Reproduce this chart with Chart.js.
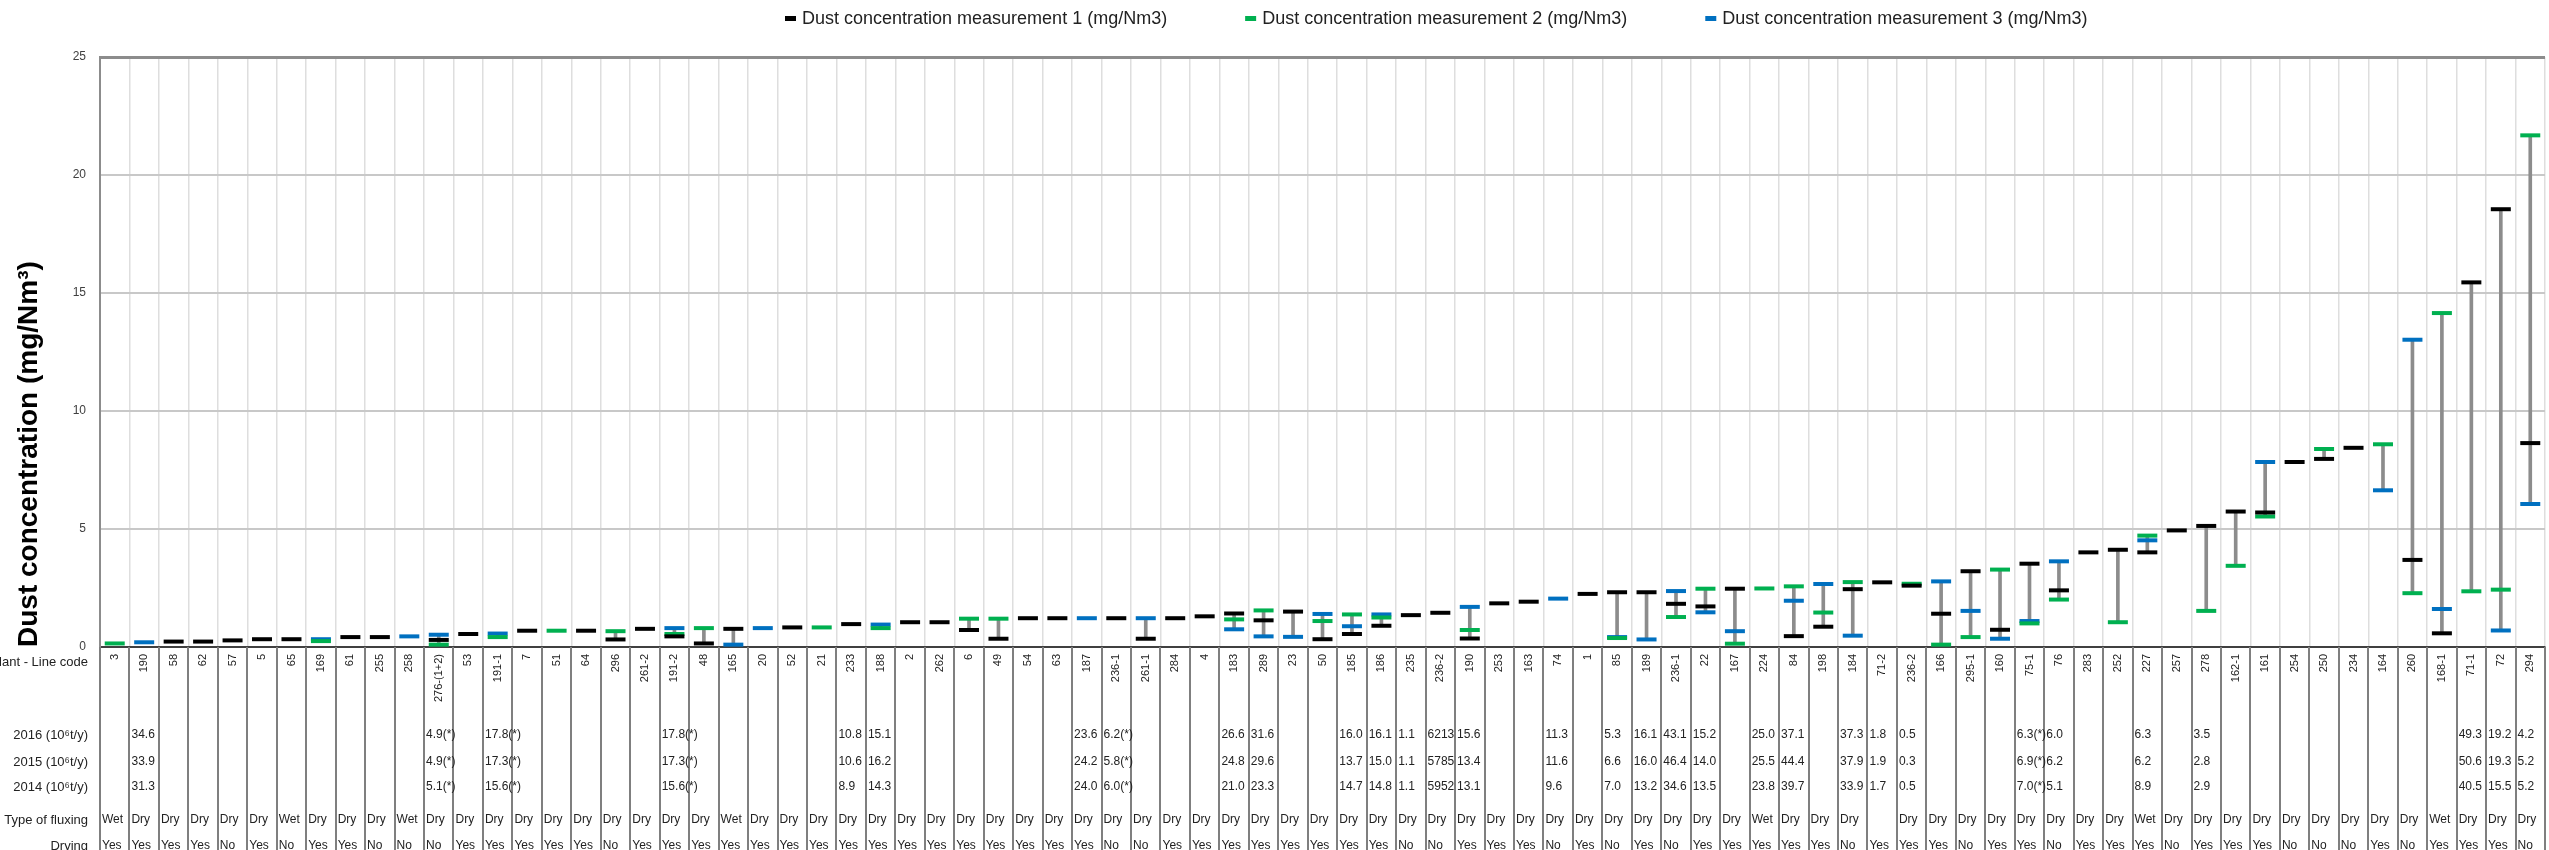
<!DOCTYPE html>
<html>
<head>
<meta charset="utf-8">
<script src="https://cdn.jsdelivr.net/npm/chart.js@4.4.1/dist/chart.umd.min.js"></script>
<style>
  html, body { margin: 0; padding: 0; background: #fff; }
  #wrap { width: 2549px; height: 850px; }
</style>
</head>
<body>
<div id="wrap"><canvas id="dustChart" width="2549" height="850"></canvas></div>
<script>
// PLANT - LINE CODES
const lineCodes = ['3','190','58','62','57','5','65','169','61','255','258','276-(1+2)','53','191-1','7','51','64','296','261-2','191-2',
  '48','165','20','52','21','233','188','2','262','6','49','54','63','187','236-1','261-1','284','4','183','289',
  '23','50','185','186','235','236-2','190','253','163','74','1','85','189','236-1','22','167','224','84','198','184',
  '71-2','236-2','166','295-1','160','75-1','76','283','252','227','257','278','162-1','161','254','250','234','164','260','168-1',
  '71-1','72','294'];

// DUST CONCENTRATION (mg/Nm3), null = not measured
const measurement1 = [null,null,0.23,0.23,0.28,0.33,0.33,null,0.42,0.42,null,0.3,0.55,null,0.69,null,0.69,0.32,0.77,0.45,
  0.15,0.77,null,0.83,null,0.97,null,1.05,1.05,0.72,0.35,1.22,1.22,null,1.22,0.35,1.22,1.3,1.42,1.13,
  1.5,0.33,0.55,0.9,1.35,1.45,0.36,1.85,1.92,null,2.25,2.32,2.32,1.83,1.72,2.47,null,0.46,0.86,2.45,
  2.74,2.6,1.41,3.21,0.73,3.53,2.4,4.01,4.12,4.01,4.94,5.13,5.74,5.7,7.84,7.97,8.44,null,3.69,0.58,
  15.45,18.55,8.64];
const measurement2 = [0.15,null,null,null,null,null,null,0.25,null,null,null,0.1,null,0.42,null,0.69,null,0.67,null,0.55,
  0.8,null,null,null,0.83,null,0.8,null,null,1.2,1.2,null,null,null,null,null,null,null,1.17,1.55,
  null,1.1,1.38,1.25,null,null,0.72,null,null,null,null,0.38,null,1.27,2.47,0.14,2.48,2.57,1.46,2.75,
  null,2.68,0.1,0.42,3.28,1.0,2.01,null,1.05,4.72,null,1.53,3.44,5.53,null,8.39,null,8.59,2.28,14.15,
  2.36,2.43,21.68];
const measurement3 = [null,0.2,null,null,null,null,null,0.33,null,null,0.45,0.52,null,0.57,null,null,null,null,null,0.8,
  null,0.1,0.8,null,null,null,0.95,null,null,null,null,null,null,1.22,null,1.22,null,null,0.75,0.45,
  0.43,1.4,0.88,1.38,null,null,1.7,null,null,2.05,null,0.42,0.32,2.37,1.47,0.67,null,1.96,2.67,0.48,
  null,null,2.78,1.53,0.35,1.1,3.63,null,null,4.52,null,null,null,7.84,null,null,null,6.64,13.02,1.61,
  null,0.7,6.06];

// PRODUCTION (10^6 t/y)
const prod2016 = ['','34.6','','','','','','','','','','4.9(*)','','17.8(*)','','','','','','17.8(*)',
  '','','','','','10.8','15.1','','','','','','','23.6','6.2(*)','','','','26.6','31.6',
  '','','16.0','16.1','1.1','6213','15.6','','','11.3','','5.3','16.1','43.1','15.2','','25.0','37.1','','37.3',
  '1.8','0.5','','','','6.3(*)','6.0','','','6.3','','3.5','','','','','','','','',
  '49.3','19.2','4.2'];
const prod2015 = ['','33.9','','','','','','','','','','4.9(*)','','17.3(*)','','','','','','17.3(*)',
  '','','','','','10.6','16.2','','','','','','','24.2','5.8(*)','','','','24.8','29.6',
  '','','13.7','15.0','1.1','5785','13.4','','','11.6','','6.6','16.0','46.4','14.0','','25.5','44.4','','37.9',
  '1.9','0.3','','','','6.9(*)','6.2','','','6.2','','2.8','','','','','','','','',
  '50.6','19.3','5.2'];
const prod2014 = ['','31.3','','','','','','','','','','5.1(*)','','15.6(*)','','','','','','15.6(*)',
  '','','','','','8.9','14.3','','','','','','','24.0','6.0(*)','','','','21.0','23.3',
  '','','14.7','14.8','1.1','5952','13.1','','','9.6','','7.0','13.2','34.6','13.5','','23.8','39.7','','33.9',
  '1.7','0.5','','','','7.0(*)','5.1','','','8.9','','2.9','','','','','','','','',
  '40.5','15.5','5.2'];

const fluxingType = ['Wet','Dry','Dry','Dry','Dry','Dry','Wet','Dry','Dry','Dry','Wet','Dry','Dry','Dry','Dry','Dry','Dry','Dry','Dry','Dry',
  'Dry','Wet','Dry','Dry','Dry','Dry','Dry','Dry','Dry','Dry','Dry','Dry','Dry','Dry','Dry','Dry','Dry','Dry','Dry','Dry',
  'Dry','Dry','Dry','Dry','Dry','Dry','Dry','Dry','Dry','Dry','Dry','Dry','Dry','Dry','Dry','Dry','Wet','Dry','Dry','Dry',
  '','Dry','Dry','Dry','Dry','Dry','Dry','Dry','Dry','Wet','Dry','Dry','Dry','Dry','Dry','Dry','Dry','Dry','Dry','Wet',
  'Dry','Dry','Dry'];
const drying = ['Yes','Yes','Yes','Yes','No','Yes','No','Yes','Yes','No','No','No','Yes','Yes','Yes','Yes','Yes','No','Yes','Yes',
  'Yes','Yes','Yes','Yes','Yes','Yes','Yes','Yes','Yes','Yes','Yes','Yes','Yes','Yes','No','No','Yes','Yes','Yes','Yes',
  'Yes','Yes','Yes','Yes','No','No','Yes','Yes','Yes','No','Yes','No','Yes','No','Yes','Yes','Yes','Yes','Yes','No',
  'Yes','Yes','Yes','No','Yes','Yes','No','Yes','Yes','Yes','No','Yes','Yes','Yes','No','No','No','Yes','No','Yes',
  'Yes','Yes','No'];

const yTicks = [0, 5, 10, 15, 20, 25];

const seriesNames = ['Dust concentration measurement 1 (mg/Nm3)', 'Dust concentration measurement 2 (mg/Nm3)', 'Dust concentration measurement 3 (mg/Nm3)'];
const seriesColors = ['#000000', '#00B050', '#0070C0'];

// MIN - MAX RANGE FOR THE GREY LINE
function buildRanges() {
  return lineCodes.map((c, i) => {
    const vals = [measurement1[i], measurement2[i], measurement3[i]].filter(v => v !== null);
    if (vals.length < 2) return null;
    return [Math.min(...vals), Math.max(...vals)];
  });
}

// LEGEND ON TOP (Excel style spacing)
const topLegend = {
  id: 'topLegend',
  afterDraw(chart) {
    const ctx = chart.ctx;
    ctx.save();
    ctx.font = '18px "Liberation Sans", sans-serif';
    ctx.textBaseline = 'middle';
    let x = 785;
    const y = 19;
    seriesNames.forEach((name, i) => {
      ctx.fillStyle = seriesColors[i];
      ctx.fillRect(x, y - 3, 11, 5);
      ctx.fillStyle = '#222';
      ctx.fillText(name, x + 17, y);
      x += 17 + ctx.measureText(name).width + 78;
    });
    ctx.restore();
  }
};

// TABLE UNDER THE CHART
const tableRows = [
  { label: '2016 (10\u2076t/y)', values: prod2016, y: 735 },
  { label: '2015 (10\u2076t/y)', values: prod2015, y: 762 },
  { label: '2014 (10\u2076t/y)', values: prod2014, y: 787 },
  { label: 'Type of fluxing', values: fluxingType, y: 820 },
  { label: 'Drying', values: drying, y: 846 }
];

const tablePlugin = {
  id: 'lineTable',
  afterDraw(chart) {
    const ctx = chart.ctx;
    const xs = chart.scales.x;
    const top = chart.chartArea.bottom;
    const colW = (xs.right - xs.left) / lineCodes.length;
    ctx.save();
    ctx.strokeStyle = '#7f7f7f';
    ctx.lineWidth = 2;
    for (let i = 0; i <= lineCodes.length; i++) {
      const px = Math.round(xs.left + i * colW);
      ctx.beginPath();
      ctx.moveTo(px, top);
      ctx.lineTo(px, chart.height);
      ctx.stroke();
    }
    ctx.fillStyle = '#222';
    ctx.textBaseline = 'middle';
    ctx.font = '13px "Liberation Sans", sans-serif';
    ctx.textAlign = 'right';
    ctx.fillText('Plant - Line code', 88, 662);
    tableRows.forEach(r => ctx.fillText(r.label, 88, r.y));
    ctx.textAlign = 'left';
    ctx.font = '12px "Liberation Sans", sans-serif';
    tableRows.forEach(r => {
      r.values.forEach((v, i) => {
        if (v) ctx.fillText(v, xs.left + i * colW + 2, r.y);
      });
    });
    ctx.restore();
  }
};

function createChart() {
  const ctx = document.getElementById('dustChart').getContext('2d');
  Chart.defaults.font.family = '"Liberation Sans", sans-serif';
  Chart.defaults.color = '#222';

  const pointSet = (i, data) => ({
    type: 'line',
    label: seriesNames[i],
    data: data,
    showLine: false,
    pointStyle: 'line',
    pointRadius: 10,
    pointHoverRadius: 10,
    pointBorderWidth: 4,
    pointBorderColor: seriesColors[i],
    borderColor: seriesColors[i],
    backgroundColor: seriesColors[i],
    order: i + 1
  });

  new Chart(ctx, {
    type: 'bar',
    data: {
      labels: lineCodes,
      datasets: [
        {
          type: 'bar',
          label: 'range',
          data: buildRanges(),
          backgroundColor: '#8c8c8c',
          barThickness: 3,
          order: 10
        },
        pointSet(0, measurement1),
        pointSet(1, measurement2),
        pointSet(2, measurement3)
      ]
    },
    options: {
      responsive: false,
      animation: false,
      layout: { autoPadding: false, padding: { top: 57, right: 4, left: 0, bottom: 0 } },
      plugins: {
        legend: { display: false },
        tooltip: { enabled: false }
      },
      scales: {
        x: {
          offset: true,
          afterFit: (scale) => {
            scale.height = 203;
            scale.paddingLeft = 0;
            scale.paddingRight = 0;
          },
          grid: {
            offset: true,
            drawTicks: false,
            color: (c) => c.index === lineCodes.length ? '#8c8c8c' : '#dedede',
            lineWidth: (c) => c.index === lineCodes.length ? 3 : 1.5
          },
          border: { color: '#404040', width: 2 },
          ticks: {
            autoSkip: false,
            minRotation: 90,
            maxRotation: 90,
            padding: 7,
            font: { size: 11 },
            color: '#222'
          }
        },
        y: {
          min: 0,
          max: 25,
          afterFit: (scale) => { scale.width = 100; },
          afterBuildTicks: (scale) => { scale.ticks = yTicks.map(v => ({ value: v })); },
          title: {
            display: true,
            text: 'Dust concentration (mg/Nm\u00b3)',
            align: 'start',
            font: { size: 28, weight: 'bold' },
            color: '#000',
            padding: { top: 12, bottom: 0 }
          },
          grid: {
            drawTicks: false,
            color: (c) => c.tick.value === 25 ? '#8c8c8c' : (c.tick.value === 0 ? '#404040' : '#c8c8c8'),
            lineWidth: (c) => c.tick.value === 25 ? 3 : 2
          },
          border: { color: '#8c8c8c', width: 2 },
          ticks: { padding: 14, font: { size: 12 }, color: '#404040' }
        }
      }
    },
    plugins: [topLegend, tablePlugin]
  });
}

window.onload = function () {
  createChart();
};
</script>
</body>
</html>
